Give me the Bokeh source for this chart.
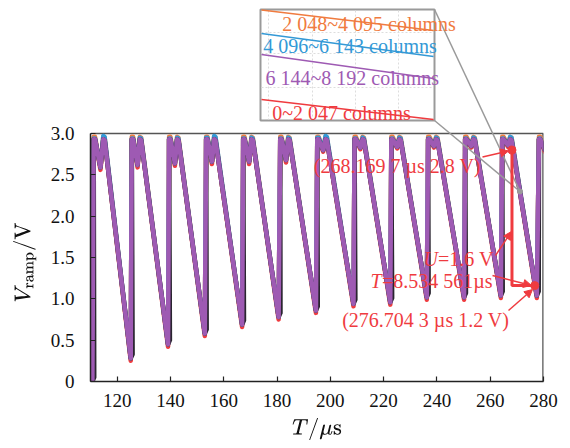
from bokeh.plotting import figure
from bokeh.models import Label, Arrow, NormalHead, FixedTicker, NumeralTickFormatter, Range1d, Title
from bokeh.embed import file_html
from bokeh.resources import INLINE

# ---------------- data ----------------
# time at which each rise reaches the top, start of each ramp, ramp minima
top_t = [111.2, 125.5, 139.5, 153.4, 167.3, 181.2, 195.1, 209.1, 222.9, 236.7, 250.6, 264.5, 278.3]
ramp_t = [115.3, 129.0, 143.0, 156.9, 170.9, 184.7, 198.7, 212.6, 226.4, 240.2, 254.2, 268.0, 281.9]
min_t = [125.1, 139.1, 152.9, 166.9, 180.6, 194.6, 208.7, 222.5, 236.2, 250.2, 264.0, 277.5]
start_t = [110.0, 110.7]

# 6 144~8 192 columns (purple)
purple_start = [0.18, 0.00]
purple_p1 = [2.93, 2.93, 2.93, 2.93, 2.93, 2.93, 2.93, 2.93, 2.93, 2.93, 2.93, 2.93, 2.93]
purple_p2 = [2.93, 2.93, 2.93, 2.93, 2.93, 2.93, 2.93, 2.93, 2.93, 2.93, 2.93, 2.93, 2.93]
purple_dip = [2.59, 2.62, 2.64, 2.66, 2.66, 2.68, 2.80, 2.83, 2.84, 2.85, 2.85, 2.86, 2.80]
purple_min = [0.28, 0.45, 0.58, 0.69, 0.78, 0.86, 0.94, 0.96, 1.02, 1.02, 1.04, 1.04]

# 0~2 047 columns (red)
red_start = [0.16, -0.02]
red_p1 = [2.93, 2.93, 2.93, 2.93, 2.93, 2.93, 2.93, 2.93, 2.93, 2.93, 2.93, 2.93, 2.93]
red_p2 = [2.93, 2.93, 2.93, 2.93, 2.93, 2.93, 2.93, 2.93, 2.93, 2.93, 2.93, 2.93, 2.93]
red_dip = [2.56, 2.59, 2.61, 2.63, 2.63, 2.65, 2.78, 2.81, 2.82, 2.83, 2.83, 2.84, 2.78]
red_min = [0.25, 0.42, 0.55, 0.66, 0.75, 0.83, 0.91, 0.93, 0.99, 0.99, 1.01, 1.01]

# 2 048~4 095 columns (orange)
orange_start = [0.19, 0.00]
orange_p1 = [2.96, 2.96, 2.96, 2.96, 2.96, 2.96, 2.96, 2.96, 2.96, 2.96, 2.96, 2.96, 2.96]
orange_p2 = [2.96, 2.96, 2.96, 2.96, 2.96, 2.96, 2.96, 2.96, 2.96, 2.96, 2.96, 2.96, 2.96]
orange_dip = [2.59, 2.62, 2.64, 2.66, 2.66, 2.68, 2.80, 2.83, 2.84, 2.85, 2.85, 2.86, 2.80]
orange_min = [0.28, 0.45, 0.58, 0.69, 0.78, 0.86, 0.94, 0.96, 1.02, 1.02, 1.04, 1.04]

# 4 096~6 143 columns (blue)
blue_start = [0.18, 0.00]
blue_p1 = [2.94, 2.94, 2.94, 2.95, 2.94, 2.94, 2.95, 2.94, 2.94, 2.94, 2.94, 2.94, 2.94]
blue_p2 = [2.97, 2.95, 2.95, 2.97, 2.95, 2.95, 2.97, 2.95, 2.95, 2.95, 2.95, 2.96, 2.95]
blue_dip = [2.59, 2.62, 2.64, 2.66, 2.66, 2.68, 2.80, 2.83, 2.84, 2.85, 2.85, 2.86, 2.80]
blue_min = [0.28, 0.45, 0.58, 0.69, 0.78, 0.86, 0.94, 0.96, 1.02, 1.02, 1.04, 1.04]

# annotation points
ann_t = [268.17, 276.70]
ann_v = [2.80, 1.16]

x_ticks = [120, 140, 160, 180, 200, 220, 240, 260, 280]
y_ticks = [0, 0.5, 1.0, 1.5, 2.0, 2.5, 3.0]

# ---------------- colours / fonts ----------------
C_PURPLE = "#9E5AB3"
C_RED = "#EF3B3F"
C_ORANGE = "#F07B3F"
C_BLUE = "#3399D6"
C_DARK = "#2A2530"
C_GRAY = "#9A9A9A"
FONT = "Liberation Serif"


def wave(start_v, p1, p2, dips, mins, rise_lag=0.0):
    t = list(start_t)
    v = list(start_v)
    prev_t, prev_v = start_t[-1], start_v[-1]
    for k in range(len(top_t)):
        if rise_lag:
            t.append(prev_t + rise_lag)
            v.append(prev_v + 0.05)
        a, b = top_t[k], ramp_t[k]
        t += [a, a + 0.5, a + 0.62 * (b - a), b - 0.5, b]
        v += [p1[k], p1[k], dips[k], p2[k], p2[k] - 0.01]
        if k < len(min_t):
            t.append(min_t[k])
            v.append(mins[k])
            prev_t, prev_v = min_t[k], mins[k]
    return t, v


# ---------------- figure (canvas at page 0,0) ----------------
W, H = 570, 448
X0, X1 = 90, 543      # frame pixels for 110 .. 280
Y0 = 381              # pixel of 0 V
PPV = 248 / 3.0       # pixels per volt
T0, T1 = 110, 280
YTOP = Y0 / PPV

p = figure(width=W, height=H, x_range=Range1d(T0, T1), y_range=Range1d(0, YTOP),
           output_backend="svg", toolbar_location=None,
           min_border_left=X0, min_border_right=W - X1,
           min_border_top=0, min_border_bottom=H - Y0)
p.outline_line_color = None
p.xgrid.grid_line_color = None
p.ygrid.grid_line_color = None
p.background_fill_color = "white"
p.border_fill_color = "white"


def dx(px):
    return T0 + (px - X0) * (T1 - T0) / (X1 - X0)


def dy(py):
    return (Y0 - py) / PPV


# axes
for ax in (p.xaxis[0], p.yaxis[0]):
    ax.axis_line_color = "#222222"
    ax.axis_line_width = 1.5
    ax.major_tick_in = 5
    ax.major_tick_out = 0
    ax.major_tick_line_color = "#222222"
    ax.major_tick_line_width = 1.2
    ax.minor_tick_line_color = None
    ax.major_label_text_font = FONT
    ax.major_label_text_font_size = "19px"
    ax.major_label_text_color = "#111111"
p.xaxis.ticker = FixedTicker(ticks=x_ticks)
p.xaxis.bounds = (T0, T1)
p.xaxis.major_label_standoff = 12
p.xaxis.axis_label = r"$$T\text{/}\mu\text{s}$$"
p.xaxis.axis_label_text_font_size = "19px"
p.xaxis.axis_label_text_color = "#111111"
p.xaxis.axis_label_standoff = 8
p.yaxis.ticker = FixedTicker(ticks=y_ticks)
p.yaxis.bounds = (0, 3.0)
p.yaxis.formatter = NumeralTickFormatter(format="0.0")
p.yaxis.major_label_overrides = {0: "0"}
p.yaxis.major_label_standoff = 16

# y-axis title, placed along the axis part that carries ticks
p.add_layout(Title(text=r"$$V_{\text{ramp}}\text{/V}$$", align="left", offset=79, standoff=22,
                   text_font_size="19px", text_font_style="normal", text_color="#111111"), "left")

# top and right frame lines
p.segment(x0=[T0], y0=[3.0], x1=[T1], y1=[3.0], line_color="#555555", line_width=1.5)
p.segment(x0=[T1], y0=[0], x1=[T1], y1=[3.0], line_color="#555555", line_width=2.5)

# ---------------- curves ----------------
lw = 4.5
tr, vr = wave(red_start, red_p1, red_p2, red_dip, red_min)
to, vo = wave(orange_start, orange_p1, orange_p2, orange_dip, orange_min)
tb, vb = wave(blue_start, blue_p1, blue_p2, blue_dip, blue_min)
tk, vk = wave(purple_start, purple_p1, purple_p2, purple_dip, purple_min, rise_lag=0.7)
tp, vp = wave(purple_start, purple_p1, purple_p2, purple_dip, purple_min)
p.line(tr, vr, line_color=C_RED, line_width=lw, line_join="round")
p.line(to, vo, line_color=C_ORANGE, line_width=lw, line_join="round")
p.line(tb, vb, line_color=C_BLUE, line_width=lw, line_join="round")
p.line(tk, vk, line_color=C_DARK, line_width=4.5, line_join="round")
p.line(tp, vp, line_color=C_PURPLE, line_width=lw, line_join="round")

# ---------------- zoom inset legend ----------------
bl, br, bt, bb = 260, 434, 9, 120
p.quad(left=[dx(bl)], right=[dx(br)], top=[dy(bt)], bottom=[dy(bb)],
       fill_color="white", line_color=C_GRAY, line_width=2)
gx = [268, 312, 355, 398]
p.segment(x0=[dx(g) for g in gx], y0=[dy(bt + 1)] * 4, x1=[dx(g) for g in gx], y1=[dy(bb - 1)] * 4,
          line_color="#DDDDDD", line_width=1, line_dash="2 2")
gy = [32, 53, 87]
p.segment(x0=[dx(bl + 1)] * 3, y0=[dy(g) for g in gy], x1=[dx(br - 1)] * 3, y1=[dy(g) for g in gy],
          line_color="#DDDDDD", line_width=1, line_dash="2 2")
leg = [(C_ORANGE, 9.5, 30, 281.7, 23.5, "2 048~4 095 columns"),
       (C_BLUE, 33, 56, 262.7, 45.5, "4 096~6 143 columns"),
       (C_PURPLE, 54, 78, 265, 77, "6 144~8 192 columns"),
       (C_RED, 99, 119, 271.7, 112, "0~2 047 columns")]
for col, ya, yb, tx, ty, txt in leg:
    p.line([dx(bl + 1), dx(br - 1)], [dy(ya), dy(yb)], line_color=col, line_width=1.5)
    p.add_layout(Label(x=dx(tx), y=dy(ty), text=txt, text_font=FONT, text_font_size="20px",
                       text_color=col, text_baseline="alphabetic", text_align="left"))

# connectors
cx, cy = 519.5, 191
p.segment(x0=[dx(br), dx(br)], y0=[dy(bt), dy(bb)], x1=[dx(cx), dx(cx)], y1=[dy(cy), dy(cy)],
          line_color=C_GRAY, line_width=1.5)
p.scatter([dx(cx)], [dy(cy)], size=5, fill_color=C_GRAY, line_color=C_GRAY)

# ---------------- red annotation ----------------
p.line([ann_t[0], ann_t[0], ann_t[1]], [ann_v[0], ann_v[1], ann_v[1]],
       line_color=C_RED, line_width=3)
p.scatter(ann_t, ann_v, size=8, fill_color=C_RED, line_color=C_RED)


def arrow(x0, y0, x1, y1):
    p.add_layout(Arrow(end=NormalHead(size=8, fill_color=C_RED, line_color=C_RED),
                       x_start=dx(x0), y_start=dy(y0), x_end=dx(x1), y_end=dy(y1),
                       line_color=C_RED, line_width=1.5))


arrow(482, 156.5, 508, 150.5)
arrow(495, 255, 511, 231)
arrow(492, 275, 531, 285)
arrow(508, 310, 532, 289)


def lab(x, y, txt, col="#111111", size="20px", style="normal"):
    p.add_layout(Label(x=dx(x), y=dy(y), text=txt, text_font=FONT, text_font_size=size,
                       text_font_style=style, text_color=col,
                       text_baseline="alphabetic", text_align="left"))


lab(313.3, 165, "(268.169 7 \u00b5s 2.8 V)", C_RED)
lab(423, 258, "U", C_RED, style="italic")
lab(437.5, 258, "=1.6 V", C_RED)
lab(370, 280, "T", C_RED, style="italic")
lab(381.5, 280, "=8.534 561\u00b5s", C_RED)
lab(341.7, 319, "(276.704 3 \u00b5s 1.2 V)", C_RED)

open("out.html", "w").write(file_html(p, INLINE))
